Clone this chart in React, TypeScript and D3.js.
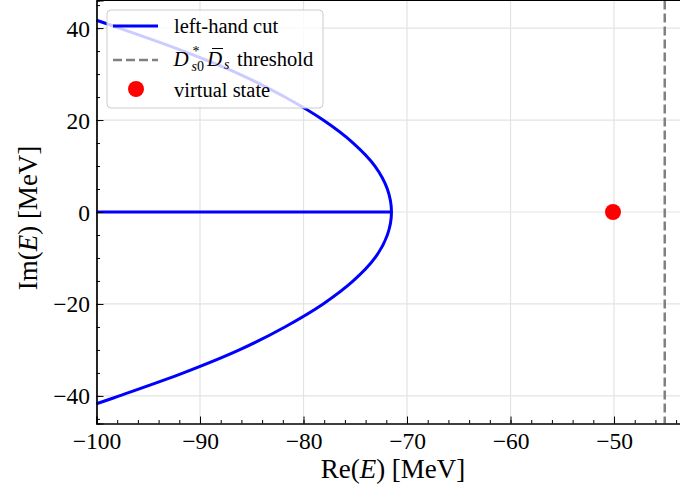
import React, { useEffect, useRef } from "react";
import * as d3 from "d3";

// left-hand cut (Re, Im in MeV)
const cutIm = [41.7, 40, 35, 30, 25, 20, 15, 10, 5, 0, -5, -10, -15, -20, -25, -30, -35, -40, -41.7];
const cutRe = [-100, -97.8, -91.6, -86.2, -81.8, -78.1, -75.2, -73.1, -71.9, -71.5, -71.9, -73.1, -75.2, -78.1, -81.8, -86.2, -91.6, -97.8, -100];
// the straight piece of the cut along the real axis
const branchRe = [-100, -71.5];
const branchIm = [0, 0];

const thresholdRe = -45.1;
const virtualRe = [-50.1];
const virtualIm = [0];

const xTicks = [-100, -90, -80, -70, -60, -50];
const yTicks = [-40, -20, 0, 20, 40];

const FONT = "'Liberation Serif', 'Times New Roman', serif";

export default function App() {
  const W = 680;
  const H = 493;
  const plot = { left: 96.5, right: 681.3, top: 0.5, bottom: 423.5 };

  const xScale = d3.scaleLinear().domain([-100, -43.5]).range([plot.left, plot.right]);
  const yScale = d3.scaleLinear().domain([-46, 46]).range([plot.bottom, plot.top]);

  const line = d3
    .line<number>()
    .x((d, i) => xScale(cutRe[i]))
    .y((d) => yScale(d))
    .curve(d3.curveCatmullRom);

  const branch = d3
    .line<number>()
    .x((d, i) => xScale(branchRe[i]))
    .y((d) => yScale(d));

  return (
    <svg width={W} height={H} style={{ position: "absolute", left: 0, top: 0 }} fontFamily={FONT}>
      <rect width={W} height={H} fill="white" />
      {/* grid */}
      <g stroke="#e3e3e3" strokeWidth={1.2}>
        {xTicks.map((t) => (
          <line key={"gx" + t} x1={xScale(t)} x2={xScale(t)} y1={plot.top} y2={plot.bottom} />
        ))}
        {yTicks.map((t) => (
          <line key={"gy" + t} x1={plot.left} x2={plot.right} y1={yScale(t)} y2={yScale(t)} />
        ))}
      </g>

      <path d={line(cutIm) || ""} fill="none" stroke="#0000ff" strokeWidth={3} />
      <path d={branch(branchIm) || ""} fill="none" stroke="#0000ff" strokeWidth={3} />

      <line
        x1={xScale(thresholdRe)}
        x2={xScale(thresholdRe)}
        y1={plot.top}
        y2={plot.bottom}
        stroke="#808080"
        strokeWidth={2.5}
        strokeDasharray="9,4"
      />

      {virtualRe.map((r, i) => (
        <circle key={i} cx={xScale(r)} cy={yScale(virtualIm[i])} r={8} fill="#ff0000" />
      ))}

      <Axes xScale={xScale} yScale={yScale} plot={plot} />

      {/* axis labels */}
      <text x={393} y={478} fontSize={27} textAnchor="middle" fill="#000">
        Re(<tspan fontStyle="italic">E</tspan>) [MeV]
      </text>
      <text
        transform={`translate(37, 218) rotate(-90)`}
        fontSize={27}
        textAnchor="middle"
        fill="#000"
      >
        Im(<tspan fontStyle="italic">E</tspan>) [MeV]
      </text>

      <Legend />
    </svg>
  );
}

function Axes({ xScale, yScale, plot }: any) {
  const ref = useRef<SVGGElement>(null);

  useEffect(() => {
    const g = d3.select(ref.current);
    g.selectAll("*").remove();

    const xMinor = d3.range(-100, -43, 2);
    const yMinor = d3.range(-45, 46, 5);

    const bottom = g.append("g").attr("transform", `translate(0,${plot.bottom})`);
    bottom.call(d3.axisBottom(xScale).tickValues(xMinor).tickSize(-3.5).tickFormat(() => ""));
    bottom
      .append("g")
      .call(d3.axisBottom(xScale).tickValues(xTicks).tickSize(-7).tickFormat(d3.format("d")));

    // top spine only, the ticks there fall outside the crop
    g.append("line")
      .attr("x1", plot.left)
      .attr("x2", plot.right)
      .attr("y1", plot.top)
      .attr("y2", plot.top)
      .attr("stroke", "#000")
      .attr("stroke-width", 1.2);

    const left = g.append("g").attr("transform", `translate(${plot.left},0)`);
    left.call(d3.axisLeft(yScale).tickValues(yMinor).tickSize(-3.5).tickFormat(() => ""));
    left
      .append("g")
      .call(d3.axisLeft(yScale).tickValues(yTicks).tickSize(-7).tickFormat(d3.format("d")));

    g.selectAll("g").attr("font-family", null).attr("font-size", null);
    g.selectAll(".domain").attr("stroke", "#000").attr("stroke-width", 1.2);
    g.selectAll(".tick line").attr("stroke", "#000").attr("stroke-width", 1);
    g.selectAll("text")
      .style("font-family", FONT)
      .style("font-size", "23.5px")
      .attr("fill", "#000");

    bottom.selectAll("text").attr("y", 25).attr("dy", 0);
    left.selectAll("text").attr("x", -6.5).attr("dy", "0.34em");
  }, [xScale, yScale, plot]);

  return <g ref={ref} />;
}

function Legend() {
  const x0 = 107;
  const y0 = 10;
  return (
    <g>
      <rect
        x={x0}
        y={y0}
        width={216}
        height={98}
        rx={4}
        fill="white"
        fillOpacity={0.8}
        stroke="#cccccc"
        strokeWidth={1}
      />
      <line x1={113} x2={158} y1={26} y2={26} stroke="#0000ff" strokeWidth={3} />
      <text x={174} y={33} fontSize={20.5} fill="#000">
        left-hand cut
      </text>

      <line x1={113} x2={158} y1={60} y2={60} stroke="#808080" strokeWidth={2.5} strokeDasharray="9,4" />
      <text x={173.5} y={66} fontSize={21} fontStyle="italic" fill="#000">
        D
      </text>
      <text x={192.5} y={56} fontSize={14} fill="#000">
        *
      </text>
      <text x={191.5} y={71} fontSize={14} fill="#000">
        <tspan fontStyle="italic">s</tspan>0
      </text>
      <text x={207} y={66} fontSize={21} fontStyle="italic" fill="#000">
        D
      </text>
      <line x1={212} x2={223} y1={48.5} y2={48.5} stroke="#000" strokeWidth={1} />
      <text x={224} y={69} fontSize={14} fontStyle="italic" fill="#000">
        s
      </text>
      <text x={237} y={66} fontSize={20.5} fill="#000">
        threshold
      </text>

      <circle cx={136} cy={89} r={8} fill="#ff0000" />
      <text x={174} y={97} fontSize={20.5} fill="#000">
        virtual state
      </text>
    </g>
  );
}
